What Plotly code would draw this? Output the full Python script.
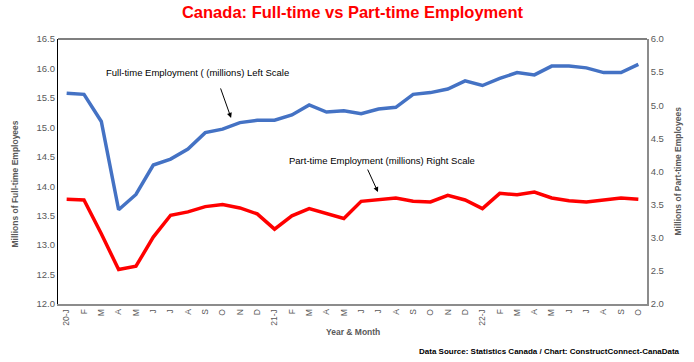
import plotly.graph_objects as go

months = ["20-J", "F", "M", "A", "M", "J", "J", "A", "S", "O", "N", "D",
          "21-J", "F", "M", "A", "M", "J", "J", "A", "S", "O", "N", "D",
          "22-J", "F", "M", "A", "M", "J", "J", "A", "S", "O"]

full_time = [15.58, 15.56, 15.10, 13.60, 13.86, 14.36, 14.46, 14.63, 14.91, 14.97,
             15.08, 15.12, 15.12, 15.21, 15.38, 15.26, 15.28, 15.23, 15.31, 15.34,
             15.56, 15.59, 15.65, 15.79, 15.71, 15.83, 15.93, 15.89, 16.04, 16.04,
             16.01, 15.93, 15.93, 16.07]

part_time = [3.58, 3.57, 3.06, 2.52, 2.57, 3.01, 3.34, 3.39, 3.47, 3.50,
             3.45, 3.36, 3.13, 3.33, 3.44, 3.37, 3.29, 3.55, 3.57, 3.60,
             3.55, 3.54, 3.64, 3.57, 3.44, 3.67, 3.65, 3.69, 3.60, 3.56,
             3.54, 3.57, 3.60, 3.58]

left_ticks = [12.0, 12.5, 13.0, 13.5, 14.0, 14.5, 15.0, 15.5, 16.0, 16.5]
right_ticks = [2.0, 2.5, 3.0, 3.5, 4.0, 4.5, 5.0, 5.5, 6.0]

idx = list(range(len(months)))
GRAY = "#595959"
FONT = "Liberation Sans"

fig = go.Figure()
fig.add_trace(go.Scatter(x=idx, y=full_time, mode="lines",
                         line=dict(color="#4472C4", width=3.5), yaxis="y",
                         name="Full-time"))
fig.add_trace(go.Scatter(x=idx, y=part_time, mode="lines",
                         line=dict(color="#FF0000", width=3.5), yaxis="y2",
                         name="Part-time"))

fig.update_layout(
    width=694, height=362,
    margin=dict(l=58, r=47, t=39, b=58, autoexpand=False),
    paper_bgcolor="white", plot_bgcolor="white",
    showlegend=False,
    font=dict(family=FONT, color=GRAY),
    title=dict(text="<b>Canada: Full-time vs Part-time Employment</b>",
               x=0.5, xanchor="center", xref="paper",
               y=0.965, yanchor="middle", yref="container",
               font=dict(family=FONT, size=16.5, color="#FF0000")),
    xaxis=dict(range=[-0.5, len(months) - 0.5], tickmode="array",
               tickvals=idx, ticktext=months, tickangle=-90,
               tickfont=dict(size=8.5, color=GRAY), automargin=False,
               showline=True, linecolor="#8C8C8C", linewidth=1.5,
               showgrid=False, zeroline=False, ticks=""),
    yaxis=dict(range=[12, 16.5], tickmode="array", tickvals=left_ticks,
               tickformat=".1f", tickfont=dict(size=9.5, color=GRAY),
               automargin=False,
               showline=True, linecolor="#000000", linewidth=1.2,
               showgrid=False, zeroline=False, ticks=""),
    yaxis2=dict(range=[2, 6], tickmode="array", tickvals=right_ticks,
                tickformat=".1f", tickfont=dict(size=9.5, color=GRAY),
                overlaying="y", side="right", automargin=False,
                showline=True, linecolor="#8C8C8C", linewidth=1.5,
                showgrid=False, zeroline=False, ticks=""),
)

# top border of plot area
fig.add_shape(type="line", xref="paper", yref="paper", x0=0, x1=1, y0=1, y1=1,
              line=dict(color="#000000", width=1.2))

# axis titles
fig.add_annotation(xref="paper", yref="paper", x=0.501, y=-0.106,
                   xanchor="center", yanchor="middle",
                   text="<b>Year & Month</b>", showarrow=False,
                   font=dict(family=FONT, size=8.5, color=GRAY))
fig.add_annotation(xref="paper", yref="paper", x=-0.073, y=0.451,
                   xanchor="center", yanchor="middle", textangle=-90,
                   text="<b>Millions of Full-time Employees</b>", showarrow=False,
                   font=dict(family=FONT, size=8.5, color=GRAY))
fig.add_annotation(xref="paper", yref="paper", x=1.051, y=0.5,
                   xanchor="center", yanchor="middle", textangle=-90,
                   text="<b>Millions of Part-time Employees</b>", showarrow=False,
                   font=dict(family=FONT, size=8.5, color=GRAY))

# annotations
fig.add_annotation(xref="paper", yref="paper", x=0.236, y=0.872,
                   xanchor="center", yanchor="middle",
                   text="Full-time Employment ( (millions) Left Scale",
                   showarrow=False, font=dict(family=FONT, size=9.5, color="#000000"))
fig.add_annotation(xref="x", yref="y", x=9.49, y=15.16, ax=-11, ay=-31,
                   text="", showarrow=True, arrowhead=2, arrowsize=1,
                   arrowwidth=1, arrowcolor="#000000")
fig.add_annotation(xref="paper", yref="paper", x=0.550, y=0.543,
                   xanchor="center", yanchor="middle",
                   text="Part-time Employment (millions) Right Scale",
                   showarrow=False, font=dict(family=FONT, size=9.5, color="#000000"))
fig.add_annotation(xref="x", yref="y2", x=17.97, y=3.69, ax=-11, ay=-24,
                   text="", showarrow=True, arrowhead=2, arrowsize=1,
                   arrowwidth=1, arrowcolor="#000000")
fig.add_annotation(xref="paper", yref="paper", x=1.059, y=-0.181,
                   xanchor="right", yanchor="middle",
                   text="<b>Data Source: Statistics Canada / Chart: ConstructConnect-CanaData</b>",
                   showarrow=False, font=dict(family=FONT, size=8, color="#000000"))

fig.write_html("out.html",
               config={"displayModeBar": False},
               post_script="document.body.style.margin='0';document.body.style.overflow='hidden';")
